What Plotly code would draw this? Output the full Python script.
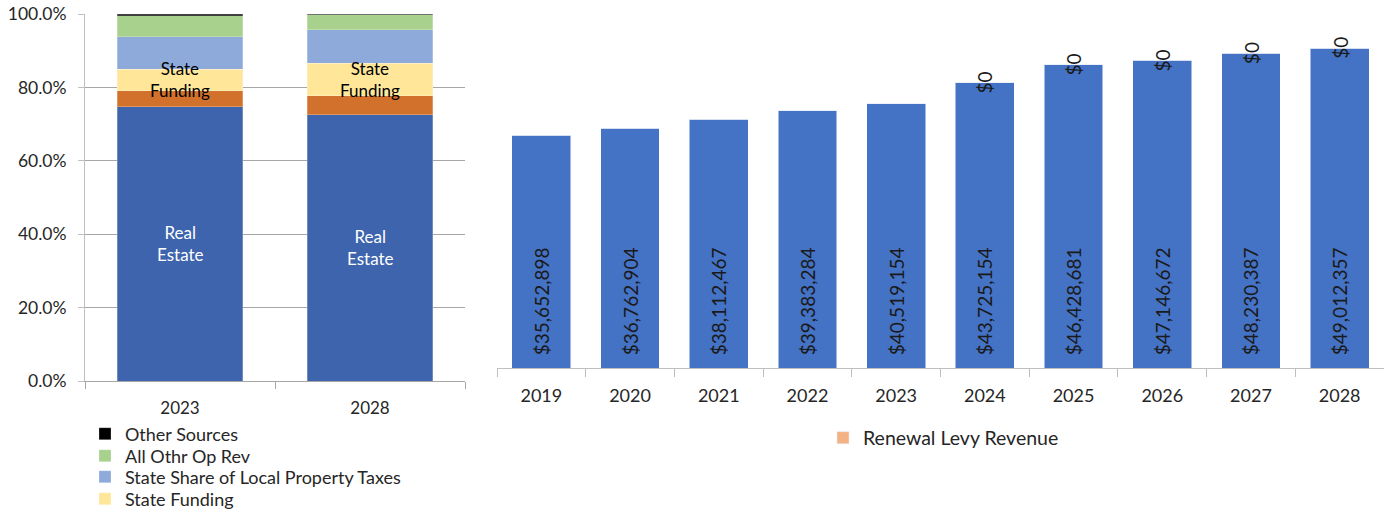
import plotly.graph_objects as go

# ---- Revenue mix (share of total) ----
mix_years = ["2023", "2028"]
real_estate = [0.747, 0.726]
other_local = [0.044, 0.051]
state_funding = [0.059, 0.089]
state_share_prop_tax = [0.088, 0.091]
all_othr_op_rev = [0.057, 0.041]
other_sources = [0.005, 0.002]

# ---- Levy revenue by year ----
levy_years = ["2019", "2020", "2021", "2022", "2023", "2024", "2025", "2026", "2027", "2028"]
base_revenue = [35652898, 36762904, 38112467, 39383284, 40519154,
                43725154, 46428681, 47146672, 48230387, 49012357]
renewal_levy = [None, None, None, None, None, 0, 0, 0, 0, 0]

FONT = "Lato"
TXT = "#262626"
W, H = 1384, 512
NBSP = "\u00a0"

fig = go.Figure()

# (name, values, colour, legend id or None, legend row centre in px from top)
mix_series = [
    ("Real Estate", real_estate, "#3D64AD", None, None),
    ("Other Local", other_local, "#D2712C", None, None),
    ("State Funding", state_funding, "#FFE699", "legend5", 499),
    ("State Share of Local Property Taxes", state_share_prop_tax, "#8EAADB", "legend4", 477),
    ("All Othr Op Rev", all_othr_op_rev, "#A9D18E", "legend3", 456),
    ("Other Sources", other_sources, "#000000", "legend", 434),
]
legend_rows = {}
for name, vals, color, leg, row_y in mix_series:
    fig.add_trace(go.Bar(
        x=mix_years, y=vals, name=name, xaxis="x", yaxis="y",
        marker=dict(color=color, line=dict(color="rgba(255,255,255,0.5)", width=0.5)),
        showlegend=leg is not None, legend=leg or "legend",
    ))
    if leg is not None:
        legend_rows[leg] = row_y

fig.add_trace(go.Bar(
    x=levy_years, y=base_revenue, name="Base Revenue", xaxis="x2", yaxis="y2",
    marker=dict(color="#4472C4", line=dict(color="rgba(255,255,255,0.5)", width=1)),
    text=[NBSP * 2 + f"${v:,.0f}" for v in base_revenue], textposition="inside",
    insidetextanchor="start", textangle=-90,
    textfont=dict(family=FONT, size=19, color="#1a1a1a"),
    showlegend=False, legend="legend2",
))
fig.add_trace(go.Bar(
    x=levy_years, y=[v if v is not None else 0 for v in renewal_levy],
    name="Renewal Levy Revenue", xaxis="x2", yaxis="y2",
    marker=dict(color="#F4B183"), showlegend=True, legend="legend2",
))

annotations = []
# In-bar labels for the revenue mix, centred in their segments
# (category axes take the category's serial index for annotations)
for i in range(len(mix_years)):
    annotations.append(dict(
        x=i, y=real_estate[i] / 2, xref="x", yref="y", text="Real<br>Estate",
        showarrow=False, font=dict(family=FONT, size=17, color="white"),
    ))
    sf_base = real_estate[i] + other_local[i]
    annotations.append(dict(
        x=i, y=sf_base + state_funding[i] / 2, xref="x", yref="y",
        text="State<br>Funding", showarrow=False,
        font=dict(family=FONT, size=17, color="black"),
    ))
# Levy value labels at the top of each stack
for i, (b, lv) in enumerate(zip(base_revenue, renewal_levy)):
    if lv is None:
        continue
    annotations.append(dict(
        x=i, y=b + lv, xref="x2", yref="y2", text=f"${lv:,.0f}",
        textangle=-90, showarrow=False,
        font=dict(family=FONT, size=19, color="#1a1a1a"),
    ))

layout = dict(
    width=W, height=H,
    margin=dict(l=0, r=0, t=0, b=0, autoexpand=False),
    paper_bgcolor="white", plot_bgcolor="white",
    barmode="stack", bargap=0.337,
    font=dict(family=FONT, color=TXT),
    annotations=annotations,
    xaxis=dict(
        domain=[85 / W, 465 / W], anchor="y", type="category",
        range=[-0.5, len(mix_years) - 0.5],
        showline=True, linecolor="#a6a6a6", linewidth=1,
        ticks="outside", tickson="boundaries", ticklen=7, tickcolor="#a6a6a6",
        tickfont=dict(family=FONT, size=17, color=TXT), ticklabelstandoff=12,
        showgrid=False, tickangle=0,
    ),
    yaxis=dict(
        domain=[1 - 381 / H, 1 - 14 / H], anchor="x", range=[0, 1],
        tickformat=".1%", dtick=0.2, showgrid=True, gridcolor="#a6a6a6", gridwidth=1,
        showline=True, linecolor="#bfbfbf", ticks="outside", ticklen=6,
        tickcolor="#bfbfbf", tickfont=dict(family=FONT, size=17.5, color=TXT),
        ticklabelstandoff=8, zeroline=False,
    ),
    xaxis2=dict(
        domain=[497 / W, 1.0], anchor="y2", type="category",
        range=[-0.5, len(levy_years) - 0.5],
        showline=True, linecolor="#bfbfbf", linewidth=1,
        ticks="outside", tickson="boundaries", ticklen=8, tickcolor="#bfbfbf",
        tickfont=dict(family=FONT, size=18, color=TXT), ticklabelstandoff=11,
        showgrid=False, tickangle=0,
    ),
    yaxis2=dict(
        domain=[1 - 368 / H, 1 - 9 / H], anchor="x2", range=[0, 55e6],
        visible=False,
    ),
    legend2=dict(
        x=823 / W, y=1 - 438 / H, xanchor="left", yanchor="middle",
        orientation="h", font=dict(family=FONT, size=19.5, color=TXT),
        bgcolor="rgba(0,0,0,0)",
    ),
)
# One row per legend so the rows sit at a tight, fixed spacing
for leg, row_y in legend_rows.items():
    layout[leg] = dict(
        x=85 / W, y=1 - row_y / H, xanchor="left", yanchor="middle",
        orientation="v", font=dict(family=FONT, size=18, color=TXT),
        bgcolor="rgba(0,0,0,0)",
    )
fig.update_layout(**layout)

fig.write_html("out.html")
